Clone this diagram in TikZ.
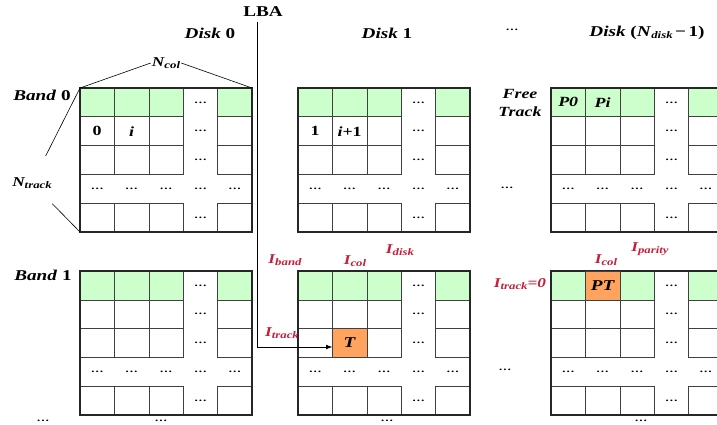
\documentclass[tikz,border=0pt]{standalone}
\usepackage{fontspec}
\setmainfont[FakeStretch=1.28]{Liberation Serif}
\usetikzlibrary{arrows.meta, positioning}
\definecolor{bandgreen}{HTML}{CCFFCC}
\definecolor{hotorange}{HTML}{FFA35E}
\definecolor{idxred}{HTML}{C41E3A}
\tikzset{
  cell/.style={rectangle, draw=black!75, line width=0.6pt, minimum width=34.4pt,
               minimum height=28.8pt, inner sep=0pt, outer sep=0pt},
  headcell/.style={cell, fill=bandgreen},
  hotcell/.style={cell, fill=hotorange, font=\fontsize{15}{17}\selectfont\bfseries\itshape},
  celltxt/.style={font=\fontsize{14}{16}\selectfont\bfseries, inner sep=0pt},
  gap/.style={font=\fontsize{10}{12}\selectfont\bfseries, inner sep=0pt},
  gridframe/.style={draw=black!85, line width=1.1pt},
  disklbl/.style={font=\fontsize{15}{18}\selectfont\bfseries},
  dimlbl/.style={font=\fontsize{13.5}{15}\selectfont\bfseries\itshape, inner sep=1pt},
  dimline/.style={draw=black, line width=0.6pt},
  idxlbl/.style={font=\fontsize{13.5}{15}\selectfont\bfseries\itshape, text=idxred, inner sep=1pt},
  lbaarrow/.style={-{Latex[length=2.2mm]}, draw=black, line width=0.8pt},
}
\newcommand{\subidx}[2]{#1\raisebox{-1.5pt}{\fontsize{10}{11}\selectfont #2}}
% name, x, y of the top left corner
\newcommand{\bandgrid}[3]{%
  \foreach \r in {0,...,4}{
    \foreach \c in {0,...,4}{
      \ifnum\r=3 \node[gap] (#1-\r-\c) at (#2+\c*34.4+17.2, #3+\r*28.8+14.4) {\dots};
      \else\ifnum\c=3 \node[gap] (#1-\r-\c) at (#2+\c*34.4+17.2, #3+\r*28.8+14.4) {\dots};
      \else\ifnum\r=0 \node[headcell] (#1-\r-\c) at (#2+\c*34.4+17.2, #3+\r*28.8+14.4) {};
      \else \node[cell] (#1-\r-\c) at (#2+\c*34.4+17.2, #3+\r*28.8+14.4) {};
      \fi\fi\fi
    }
  }
  \draw[gridframe] (#2,#3) rectangle ++(172,144);
}

\begin{document}
\begin{tikzpicture}[x=1pt, y=-1pt]
  \useasboundingbox (0,0) rectangle (717,425);
  \bandgrid{d0b0}{80}{88}
  \bandgrid{d1b0}{298}{88}
  \bandgrid{dnb0}{551}{88}
  \bandgrid{d0b1}{80}{271}
  \bandgrid{d1b1}{298}{271}
  \bandgrid{dnb1}{551}{271}

  \node[disklbl] (lba) at (263,12) {LBA};
  \node[disklbl] (disk0) at (210,33) {\textit{Disk} 0};
  \node[disklbl] (disk1) at (387,33) {\textit{Disk} 1};
  \node[gap] (diskdots) at (512,30) {\dots};
  \node[disklbl] (diskn) at (647,33) {\textit{Disk} (\subidx{\textit{N}}{\textit{disk}}\,−\,1)};
  \node[disklbl] (band0) at (42,95) {\textit{Band} 0};
  \node[disklbl] (band1) at (43,275) {\textit{Band} 1};
  \node[disklbl, align=center, font=\fontsize{14}{18}\selectfont\bfseries\itshape] (freetrack) at (520,103) {Free\\Track};

  \node[dimlbl] (ncol) at (166,63) {\subidx{N}{col}};
  \draw[dimline] (ncol.west) -- (d0b0-0-0.north west);
  \draw[dimline] (ncol.east) -- (d0b0-0-4.north east);
  \node[dimlbl] (ntrack) at (32,183) {\subidx{N}{track}};
  \draw[dimline, shorten <=23pt] (ntrack) -- (d0b0-0-0.north west);
  \draw[dimline, shorten <=20pt] (ntrack) -- (d0b0-4-0.south west);

  \node[celltxt] (t0) at (d0b0-1-0) {0};
  \node[celltxt] (ti) at (d0b0-1-1) {\textit{i}};
  \node[celltxt] (t1) at (d1b0-1-0) {1};
  \node[celltxt] (ti1) at (d1b0-1-1) {\textit{i}+1};
  \node[celltxt, font=\fontsize{14}{16}\selectfont\bfseries\itshape] (p0) at (dnb0-0-0) {P0};
  \node[celltxt, font=\fontsize{14}{16}\selectfont\bfseries\itshape] (pi) at (dnb0-0-1) {Pi};
  \node[hotcell] (T) at (d1b1-2-1) {T};
  \node[hotcell] (PT) at (dnb1-0-1) {PT};

  \node[idxlbl] (iband) at (285,260) {\subidx{I}{band}};
  \node[idxlbl] (icol) at (355,261) {\subidx{I}{col}};
  \node[idxlbl] (idisk) at (400,250) {\subidx{I}{disk}};
  \node[idxlbl] (itrack) at (282,333) {\subidx{I}{track}};
  \node[idxlbl] (itrack0) at (520,284) {\subidx{I}{track}=0};
  \node[idxlbl] (icolp) at (606,260) {\subidx{I}{col}};
  \node[idxlbl] (iparity) at (650,249) {\subidx{I}{parity}};

  \coordinate (lbatop) at (257,22);
  \draw[lbaarrow] (lbatop) |- ([yshift=-4pt]T.west);

  \node[gap] (rowdots0) at (507,188) {\dots};
  \node[gap] (rowdots1) at (505,370) {\dots};
  \node[gap] (enddots0) at (43,421) {\dots};
  \node[gap] (enddots1) at (161,421) {\dots};
  \node[gap] (enddots2) at (387,421) {\dots};
  \node[gap] (enddots3) at (641,421) {\dots};
\end{tikzpicture}
\end{document}
